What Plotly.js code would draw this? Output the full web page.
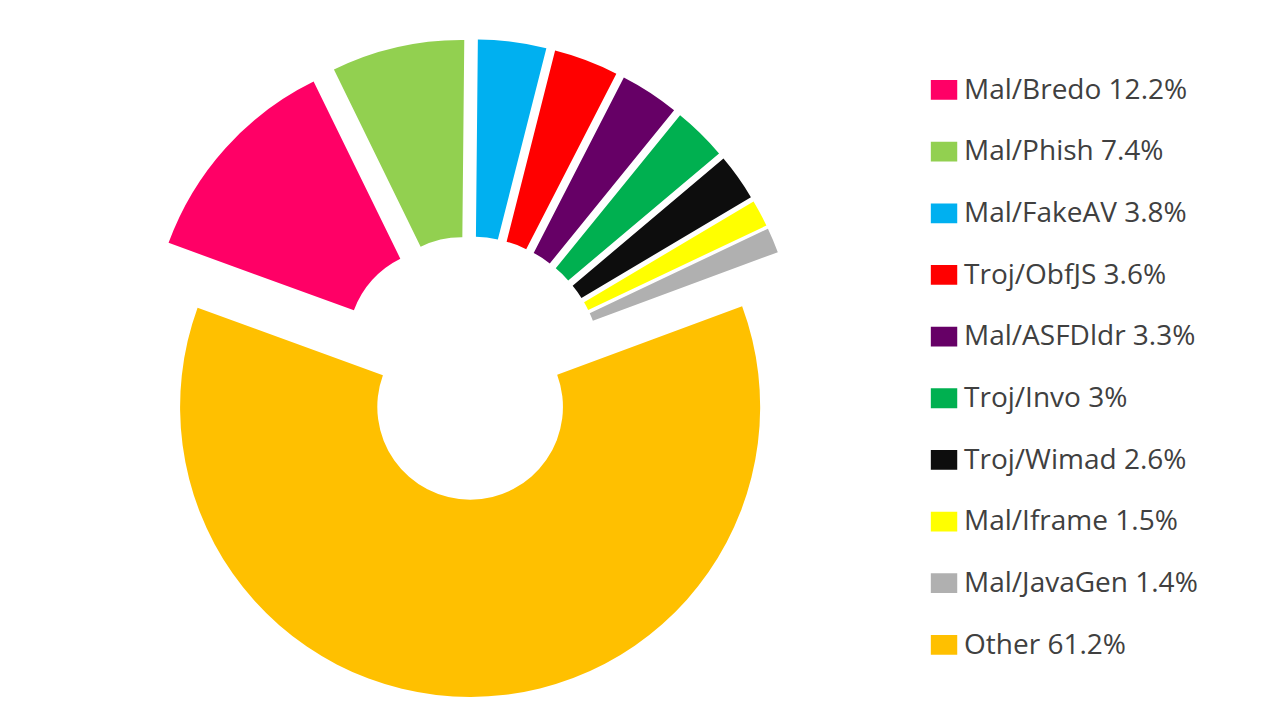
<!DOCTYPE html>
<html>
<head>
<meta charset="utf-8">
<script src="https://cdn.plot.ly/plotly-3.0.1.min.js"></script>
<style>
  html, body { margin: 0; padding: 0; background: #ffffff; }
  #chart { width: 1280px; height: 722px; }
  .legend .legendpie { transform: translate(20px, 0px) scale(2.2, 1.65); }
</style>
</head>
<body>
<div id="chart"></div>
<script>
// ---- data ----
const names = ["Mal/Bredo", "Mal/Phish", "Mal/FakeAV", "Troj/ObfJS", "Mal/ASFDldr",
               "Troj/Invo", "Troj/Wimad", "Mal/Iframe", "Mal/JavaGen", "Other"];
const shares = [12.2, 7.4, 3.8, 3.6, 3.3, 3, 2.6, 1.5, 1.4, 61.2];
const sliceColors = ["#FF0066", "#92D050", "#00B0F0", "#FF0000", "#660066",
                     "#00B050", "#0D0D0D", "#FFFF00", "#B0B0B0", "#FFC000"];

// legend labels: name + share, with a blank second line to widen row spacing
const legendLabels = names.map((n, i) =>
  '<span style="font-size:28px">' + n + ' ' + shares[i] + '%</span><br>&nbsp;');

const trace = {
  type: 'pie',
  labels: legendLabels,
  values: shares,
  sort: false,
  direction: 'clockwise',
  rotation: 290,
  hole: 0.32,
  pull: 0.134,
  marker: { colors: sliceColors, line: { width: 0 } },
  textinfo: 'none',
  hovertext: names,
  hoverinfo: 'text+percent',
  domain: { x: [0.1102, 0.6242], y: [0.0347, 0.9458] }
};

const layout = {
  width: 1280,
  height: 722,
  margin: { l: 0, r: 0, t: 0, b: 0 },
  paper_bgcolor: '#ffffff',
  plot_bgcolor: '#ffffff',
  showlegend: true,
  legend: {
    x: 0.7219, xanchor: 'left',
    y: 0.9047, yanchor: 'top',
    valign: 'top',
    font: { family: 'Open Sans, DejaVu Sans, sans-serif', size: 22.56, color: '#404040' },
    bgcolor: 'rgba(0,0,0,0)',
    borderwidth: 0
  }
};

Plotly.newPlot('chart', [trace], layout, { displayModeBar: false, staticPlot: true });
</script>
</body>
</html>
